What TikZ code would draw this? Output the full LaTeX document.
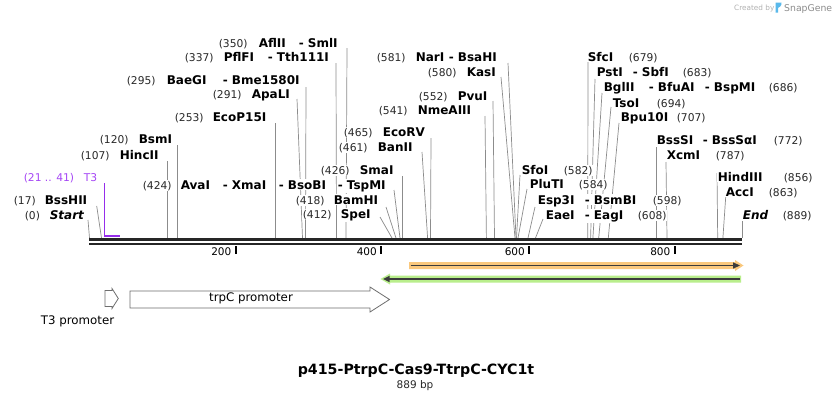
\documentclass[tikz,border=0pt]{standalone}
\usepackage{fontspec}
\setmainfont{DejaVu Sans}
\definecolor{cutgray}{RGB}{140,140,140}
\definecolor{bbcol}{RGB}{38,38,38}
\definecolor{numcol}{RGB}{40,40,40}
\definecolor{primcol}{RGB}{150,45,235}
\definecolor{primtext}{RGB}{165,70,245}
\definecolor{orglow}{RGB}{250,200,125}
\definecolor{grglow}{RGB}{185,238,140}
\definecolor{featline}{RGB}{60,60,60}
\definecolor{promocol}{RGB}{110,110,110}
\definecolor{snapblue}{RGB}{90,185,235}
\newcommand\cutl[3]{\coordinate (t#1) at (#2); \coordinate (s#1) at (#3,238); \draw[cut] (t#1) -- (s#1);}
\begin{document}
\begin{tikzpicture}[x=1pt,y=-1pt,
 cut/.style={draw=cutgray,line width=0.7pt},
 num/.style={font=\fontsize{10.7}{12}\selectfont,text=numcol,fill=white,inner xsep=0.6pt,inner ysep=1pt,anchor=base west},
 enz/.style={font=\fontsize{12}{14}\selectfont\bfseries,text=black,fill=white,inner xsep=0.6pt,inner ysep=1pt,anchor=base west},
 ends/.style={font=\fontsize{12}{14}\selectfont\bfseries\itshape,text=black,fill=white,inner xsep=0.6pt,inner ysep=1pt,anchor=base west},
 prim/.style={font=\fontsize{10.7}{12}\selectfont,text=primtext,inner sep=0.6pt,anchor=base west},
 tick/.style={line width=2pt,draw=black},
 ticklbl/.style={font=\fontsize{10.5}{12}\selectfont,inner sep=0pt,anchor=base east},
 promo/.style={draw=promocol,fill=white,line width=0.8pt},
 bb/.style={draw=bbcol,line width=2.6pt}]
\fill[white] (0,0) rectangle (832,402);
\useasboundingbox (0,0) rectangle (832,402);

% cut-site connectors
\cutl{Start}{88,220}{89.5}
\cutl{BssHII}{96.7,206}{101.5}
\cutl{HincII}{167,161}{167}
\cutl{BsmI}{177,145}{177}
\cutl{EcoP}{275,123}{275}
\cutl{ApaLI}{297,99}{302.5}
\cutl{BaeGI}{306,87}{305.5}
\cutl{PflFI}{336,63}{336.5}
\cutl{AflII}{347,48}{346}
\cutl{SpeI}{380,217}{392}
\cutl{BamHI}{386,207}{396}
\cutl{AvaI}{394,190}{400}
\cutl{SmaI}{402,176}{402}
\cutl{BanII}{422,152}{427.6}
\cutl{EcoRV}{431,138}{430.5}
\cutl{NmeAIII}{485,116}{486.4}
\cutl{PvuI}{493,101}{494.5}
\cutl{KasI}{501,77}{515}
\cutl{NarI}{508,63}{516}
\cutl{SfoI}{520,175}{516.5}
\cutl{PluTI}{527,189}{518}
\cutl{Esp3I}{535,207}{528}
\cutl{EaeI}{543,219}{535.5}
\cutl{SfcI}{588,62}{587.7}
\cutl{PstI}{595,79}{590.6}
\cutl{BglII}{602,93}{592.9}
\cutl{TsoI}{611,107}{598.7}
\cutl{Bpu}{619,123}{608.3}
\cutl{BssSI}{656,147}{656}
\cutl{XcmI}{666,162}{667}
\cutl{HindIII}{717,173}{717.7}
\cutl{AccI}{725.7,197}{722.9}
\cutl{End}{742,221}{742}

% backbone
\coordinate (bbA) at (89,239.5); \coordinate (bbB) at (742,239.5);
\coordinate (bbC) at (89,244); \coordinate (bbD) at (742,244);
\draw[bb] (bbA) -- (bbB);
\draw[bb] (bbC) -- (bbD);

% ticks
\coordinate (k2a) at (235.5,246); \coordinate (k2b) at (235.5,253.5);
\coordinate (k4a) at (381,246); \coordinate (k4b) at (381,253.5);
\coordinate (k6a) at (529,246); \coordinate (k6b) at (529,253.5);
\coordinate (k8a) at (674.5,246); \coordinate (k8b) at (674.5,253.5);
\draw[tick] (k2a) -- (k2b); \draw[tick] (k4a) -- (k4b);
\draw[tick] (k6a) -- (k6b); \draw[tick] (k8a) -- (k8b);
\node[ticklbl] (l200) at (231.5,255.5) {200};
\node[ticklbl] (l400) at (377,255.5) {400};
\node[ticklbl] (l600) at (525,255.5) {600};
\node[ticklbl] (l800) at (670.5,255.5) {800};

% T3 primer
\coordinate (pA) at (104.5,183); \coordinate (pB) at (104.5,235.8); \coordinate (pC) at (119.5,235.8);
\draw[primcol,line width=1.2pt] (pA) -- (pB);
\draw[primcol,line width=1.8pt] (104,235.8) -- (pC);

% orange feature (forward)
\fill[orglow] (409,262) -- (735,262) -- (735,260) -- (743.5,265.5) -- (735,271) -- (735,269) -- (409,269) -- cycle;
\draw[featline,line width=1.8pt] (410.5,265.5) -- (734,265.5);
\fill[featline] (733,262.3) -- (740,265.5) -- (733,268.7) -- cycle;

% green feature (reverse)
\fill[grglow] (741,275.5) -- (390,275.5) -- (390,273.5) -- (380.5,279) -- (390,284.5) -- (390,282.5) -- (741,282.5) -- cycle;
\draw[featline,line width=1.8pt] (739.5,279) -- (388,279);
\fill[featline] (389.5,275.8) -- (383,279) -- (389.5,282.2) -- cycle;

% promoters
\draw[promo] (130,291) -- (370,291) -- (370,287) -- (389.5,299.5) -- (370,312) -- (370,308) -- (130,308) -- cycle;
\node[font=\fontsize{11.8}{13}\selectfont,inner sep=0pt] (trpC) at (251,298.5) {trpC promoter};
\draw[promo] (105,290.5) -- (112,290.5) -- (112,288.5) -- (118.3,298.5) -- (112,308.5) -- (112,306.5) -- (105,306.5) -- cycle;
\node[font=\fontsize{11.8}{13}\selectfont,inner sep=0pt] (T3prom) at (77.5,321) {T3 promoter};

% left-side labels
\node[num] (n350) at (218,47) {(350)};
\node[enz] (eAflII) at (258,47) {AflII};
\node[enz] (eSmlI) at (298,47) {- SmlI};
\node[num] (n337) at (184,61) {(337)};
\node[enz] (ePflFI) at (223,61) {PflFI};
\node[enz] (eTth) at (267,61) {- Tth111I};
\node[num] (n295) at (126,84) {(295)};
\node[enz] (eBaeGI) at (166,84) {BaeGI};
\node[enz] (eBme) at (222,84) {- Bme1580I};
\node[num] (n291) at (212,98) {(291)};
\node[enz] (eApaLI) at (251,98) {ApaLI};
\node[num] (n253) at (174,121) {(253)};
\node[enz] (eEcoP) at (212,121) {EcoP15I};
\node[num] (n120) at (99,143.5) {(120)};
\node[enz] (eBsmI) at (138,143.5) {BsmI};
\node[num] (n107) at (80,159) {(107)};
\node[enz] (eHincII) at (119,159) {HincII};
\node[prim] (nT3) at (23,181) {(21 .. 41)};
\node[prim] (eT3) at (83,181) {T3};
\node[num] (n424) at (142,189) {(424)};
\node[enz] (eAvaI) at (180,189) {AvaI};
\node[enz] (eXmaI) at (222,189) {- XmaI};
\node[enz] (eBsoBI) at (278,189) {- BsoBI};
\node[enz] (eTspMI) at (337,189) {- TspMI};
\node[num] (n17) at (13,204) {(17)};
\node[enz] (eBssHII) at (44,204) {BssHII};
\node[num] (n0) at (24,219) {(0)};
\node[ends] (eStart) at (49,219) {Start};
\node[num] (n426) at (320,174) {(426)};
\node[enz] (eSmaI) at (359,174) {SmaI};
\node[num] (n418) at (295,204) {(418)};
\node[enz] (eBamHI) at (333,204) {BamHI};
\node[num] (n412) at (302,218) {(412)};
\node[enz] (eSpeI) at (340,218) {SpeI};
\node[num] (n461) at (338,151) {(461)};
\node[enz] (eBanII) at (377,151) {BanII};
\node[num] (n465) at (343,136) {(465)};
\node[enz] (eEcoRV) at (382,136) {EcoRV};
\node[num] (n541) at (378,114) {(541)};
\node[enz] (eNme) at (417,114) {NmeAIII};
\node[num] (n552) at (418,100) {(552)};
\node[enz] (ePvuI) at (457,100) {PvuI};
\node[num] (n580) at (427,76) {(580)};
\node[enz] (eKasI) at (466,76) {KasI};
\node[num] (n581) at (376,61) {(581)};
\node[enz] (eNarI) at (415,61) {NarI};
\node[enz] (eBsaHI) at (448,61) {- BsaHI};

% right-side labels
\node[enz] (eSfcI) at (587,61) {SfcI};
\node[num] (n679) at (628,61) {(679)};
\node[enz] (ePstI) at (596,76) {PstI};
\node[enz] (eSbfI) at (632,76) {- SbfI};
\node[num] (n683) at (682,76) {(683)};
\node[enz] (eBglII) at (603,91) {BglII};
\node[enz] (eBfuAI) at (648,91) {- BfuAI};
\node[enz] (eBspMI) at (704,91) {- BspMI};
\node[num] (n686) at (768,91) {(686)};
\node[enz] (eTsoI) at (612,107) {TsoI};
\node[num] (n694) at (656,107) {(694)};
\node[enz] (eBpu) at (620,121) {Bpu10I};
\node[num] (n707) at (676,121) {(707)};
\node[enz] (eBssSI) at (656,144) {BssSI};
\node[enz] (eBssSa) at (702,144) {- BssSαI};
\node[num] (n772) at (773,144) {(772)};
\node[enz] (eXcmI) at (666,159) {XcmI};
\node[num] (n787) at (715,159) {(787)};
\node[enz] (eSfoI) at (521,174) {SfoI};
\node[num] (n582) at (563,174) {(582)};
\node[enz] (ePluTI) at (529,188) {PluTI};
\node[num] (n584) at (578,188) {(584)};
\node[enz] (eEsp3I) at (537,204) {Esp3I};
\node[enz] (eBsmBI) at (584,204) {- BsmBI};
\node[num] (n598) at (652,204) {(598)};
\node[enz] (eEaeI) at (545,219) {EaeI};
\node[enz] (eEagI) at (584,219) {- EagI};
\node[num] (n608) at (637,219) {(608)};
\node[enz] (eHindIII) at (717,181) {HindIII};
\node[num] (n856) at (783,181) {(856)};
\node[enz] (eAccI) at (725,196) {AccI};
\node[num] (n863) at (768,196) {(863)};
\node[ends] (eEnd) at (742,219) {End};
\node[num] (n889) at (782,219) {(889)};

% title
\node[font=\fontsize{14.2}{16}\selectfont\bfseries,inner sep=0pt] (title) at (416,371) {p415-PtrpC-Cas9-TtrpC-CYC1t};
\node[font=\fontsize{10.5}{12}\selectfont,text=numcol,inner sep=0pt] (size) at (415,386) {889 bp};

% watermark
\node[font=\fontsize{7.3}{8}\selectfont,text=black!30,inner sep=0pt,anchor=base west] (cby) at (734,10) {Created by};
\fill[snapblue] (775.5,2.5) -- (781.5,2.5) .. controls (782,6) and (779,7.5) .. (778,8) -- (778,12.5) -- (775.5,12.5) -- cycle;
\node[font=\fontsize{9.3}{10}\selectfont,text=black!45,inner sep=0pt,anchor=base west] (sg) at (784,11) {SnapGene};
\end{tikzpicture}
\end{document}
